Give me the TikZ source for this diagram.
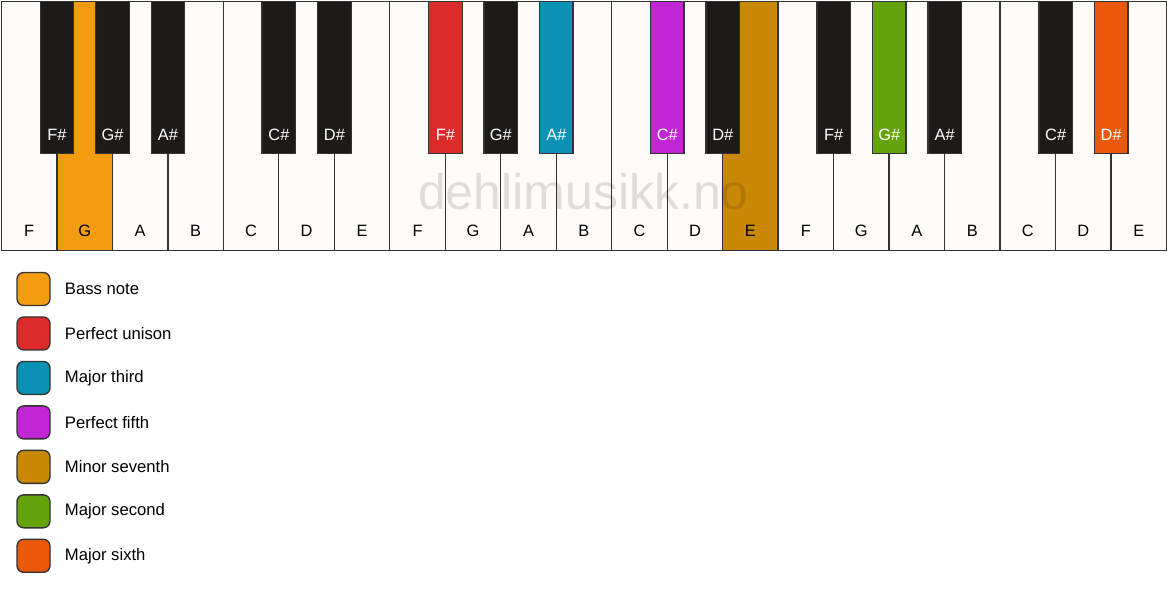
\documentclass[tikz,border=0pt]{standalone}
\usepackage{fontspec}
\setmainfont{Liberation Sans}
\usetikzlibrary{positioning}
\definecolor{ivory}{HTML}{FDFCF8}
\definecolor{keyedge}{HTML}{333333}
\definecolor{keyblack}{HTML}{1C1B1A}
\definecolor{bassorange}{HTML}{F39C0F}
\definecolor{unisonred}{HTML}{DD2A2A}
\definecolor{thirdblue}{HTML}{0A92B5}
\definecolor{fifthpurple}{HTML}{C026D3}
\definecolor{seventhgold}{HTML}{C98906}
\definecolor{secondgreen}{HTML}{65A30D}
\definecolor{sixthorange}{HTML}{EA580C}

\begin{document}
\begin{tikzpicture}[x=0.75pt, y=-0.75pt,
    whitekey/.style={draw=keyedge, rectangle, anchor=north west, minimum width=41.61pt, minimum height=186.8pt, inner sep=0pt, line width=1pt},
    blackkey/.style={draw=keyedge, rectangle, anchor=north, minimum width=25.2pt, minimum height=114.4pt, inner sep=0pt, line width=1pt},
    whitelabel/.style={font=\fontsize{12.3}{14}\selectfont, text=black, inner sep=0pt},
    blacklabel/.style={font=\fontsize{12.3}{14}\selectfont, text=white, inner sep=0pt},
    legbox/.style={draw=keyedge, rectangle, rounded corners=5pt, minimum size=24.75pt, inner sep=0pt, line width=1pt},
    legtext/.style={font=\fontsize{12.5}{14}\selectfont, inner sep=0pt, anchor=west},
    watermark/.style={font=\fontsize{37.5}{40}\selectfont, text=black, text opacity=0.12, inner sep=0pt}
]
\useasboundingbox (0,0) rectangle (1167,594);

% White keys
\foreach \n/\c [count=\i from 0] in {F/ivory, G/bassorange, A/ivory, B/ivory, C/ivory, D/ivory, E/ivory,
    F/ivory, G/ivory, A/ivory, B/ivory, C/ivory, D/ivory, E/seventhgold,
    F/ivory, G/ivory, A/ivory, B/ivory, C/ivory, D/ivory, E/ivory} {
  \node[whitekey, fill=\c] (w\i) at (0.75+\i*55.48, 0.5) {};
  \node[whitelabel] (wl\i) at ([yshift=15pt]w\i.south) {\n};
}

% Watermark
\node[watermark] (wm) at (583.5,192) {dehlimusikk.no};

% Black keys
\foreach \i/\n/\c in {0/F\#/keyblack, 1/G\#/keyblack, 2/A\#/keyblack, 4/C\#/keyblack, 5/D\#/keyblack,
    7/F\#/unisonred, 8/G\#/keyblack, 9/A\#/thirdblue, 11/C\#/fifthpurple, 12/D\#/keyblack,
    14/F\#/keyblack, 15/G\#/secondgreen, 16/A\#/keyblack, 18/C\#/keyblack, 19/D\#/sixthorange} {
  \node[blackkey, fill=\c] (b\i) at ([xshift=-0.4pt]w\i.north east) {};
  \node[blacklabel] (bl\i) at ([yshift=15pt]b\i.south) {\n};
}

% Legend
\node[legbox, fill=bassorange] (legbass) at (33.5,289) {};
\node[legbox, fill=unisonred, below=7.6pt of legbass] (legunison) {};
\node[legbox, fill=thirdblue, below=7.6pt of legunison] (legthird) {};
\node[legbox, fill=fifthpurple, below=7.6pt of legthird] (legfifth) {};
\node[legbox, fill=seventhgold, below=7.6pt of legfifth] (legseventh) {};
\node[legbox, fill=secondgreen, below=7.6pt of legseventh] (legsecond) {};
\node[legbox, fill=sixthorange, below=7.6pt of legsecond] (legsixth) {};

\node[legtext, right=10.5pt of legbass] {Bass note};
\node[legtext, right=10.5pt of legunison] {Perfect unison};
\node[legtext, right=10.5pt of legthird] {Major third};
\node[legtext, right=10.5pt of legfifth] {Perfect fifth};
\node[legtext, right=10.5pt of legseventh] {Minor seventh};
\node[legtext, right=10.5pt of legsecond] {Major second};
\node[legtext, right=10.5pt of legsixth] {Major sixth};

\end{tikzpicture}
\end{document}
